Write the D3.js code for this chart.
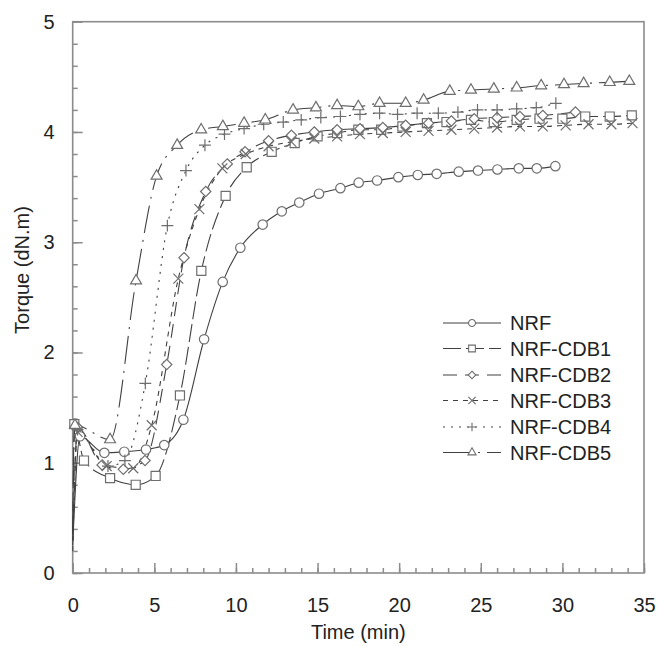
<!DOCTYPE html>
<html>
<head>
<meta charset="utf-8">
<script src="https://cdn.jsdelivr.net/npm/d3@7"></script>
<style>
  body { margin: 0; background: #fff; }
  text { font-family: "Liberation Sans", Arial, sans-serif; fill: #222; }
</style>
</head>
<body>
<script>
// series names (legend order)
var seriesNames = ["NRF", "NRF-CDB1", "NRF-CDB2", "NRF-CDB3", "NRF-CDB4", "NRF-CDB5"];

// time (min) / torque (dN.m)
var timeNRF   = [0, 0.45, 1.94, 3.16, 4.49, 5.61, 6.78, 8.05, 9.19, 10.27, 11.64, 12.81, 13.88, 15.09, 16.40, 17.52, 18.65, 19.95, 21.14, 22.30, 23.65, 24.83, 26.02, 27.33, 28.43, 29.57];
var torqueNRF = [0.25, 1.24, 1.09, 1.10, 1.12, 1.16, 1.39, 2.12, 2.64, 2.95, 3.16, 3.28, 3.36, 3.44, 3.49, 3.54, 3.56, 3.59, 3.61, 3.62, 3.64, 3.65, 3.66, 3.67, 3.67, 3.69];

var timeCDB1   = [0, 0.1, 0.69, 2.29, 3.86, 5.08, 6.57, 7.88, 9.37, 10.66, 12.19, 13.6, 15.0, 16.2, 17.5, 18.9, 20.2, 21.7, 22.9, 24.4, 25.8, 27.2, 28.6, 30.0, 31.4, 32.9, 34.25];
var torqueCDB1 = [0.35, 1.35, 1.02, 0.86, 0.80, 0.88, 1.61, 2.74, 3.42, 3.68, 3.82, 3.90, 3.96, 3.99, 4.02, 4.02, 4.05, 4.08, 4.09, 4.11, 4.09, 4.11, 4.12, 4.12, 4.14, 4.14, 4.15];

var timeCDB2   = [0, 0.3, 1.8, 3.1, 4.43, 5.76, 6.82, 8.15, 9.47, 10.56, 12.0, 13.4, 14.8, 16.2, 17.6, 19.0, 20.4, 21.8, 23.2, 24.6, 26.0, 27.4, 28.8, 30.8];
var torqueCDB2 = [0.3, 1.32, 0.98, 0.94, 1.02, 1.89, 2.86, 3.46, 3.71, 3.82, 3.92, 3.97, 4.00, 4.02, 4.03, 4.04, 4.06, 4.08, 4.10, 4.12, 4.13, 4.14, 4.15, 4.18];

var timeCDB3   = [0, 0.3, 2.08, 3.71, 4.84, 6.47, 7.76, 9.17, 10.6, 12.0, 13.4, 14.8, 16.2, 17.6, 19.0, 20.4, 21.8, 23.2, 24.6, 26.0, 27.4, 28.8, 30.2, 31.6, 33.0, 34.3];
var torqueCDB3 = [0.2, 1.28, 0.97, 0.95, 1.34, 2.67, 3.30, 3.67, 3.80, 3.87, 3.91, 3.94, 3.96, 3.98, 3.99, 4.00, 4.01, 4.02, 4.03, 4.04, 4.05, 4.05, 4.06, 4.07, 4.07, 4.08];

var timeCDB4   = [0, 0.3, 2.16, 3.2, 4.45, 5.8, 6.94, 8.1, 9.3, 10.5, 11.7, 12.9, 14.0, 15.2, 16.4, 17.6, 18.8, 19.9, 21.1, 22.4, 23.6, 24.8, 26.0, 27.2, 28.4, 29.6];
var torqueCDB4 = [0.3, 1.30, 0.97, 1.02, 1.72, 3.15, 3.65, 3.88, 3.98, 4.03, 4.07, 4.09, 4.11, 4.13, 4.14, 4.16, 4.17, 4.16, 4.17, 4.17, 4.18, 4.20, 4.20, 4.21, 4.22, 4.26];

var timeCDB5   = [0, 0.14, 2.29, 3.88, 5.14, 6.4, 7.87, 9.2, 10.5, 11.8, 13.5, 14.9, 16.2, 17.5, 18.8, 20.4, 21.5, 23.1, 24.4, 25.8, 27.2, 28.7, 30.1, 31.3, 32.9, 34.1];
var torqueCDB5 = [0.4, 1.34, 1.21, 2.65, 3.60, 3.88, 4.02, 4.05, 4.08, 4.11, 4.20, 4.22, 4.24, 4.23, 4.26, 4.26, 4.29, 4.37, 4.38, 4.39, 4.40, 4.42, 4.43, 4.44, 4.45, 4.46];

var xTicks = [0, 5, 10, 15, 20, 25, 30, 35];
var yTicks = [0, 1, 2, 3, 4, 5];

var times   = [timeNRF, timeCDB1, timeCDB2, timeCDB3, timeCDB4, timeCDB5];
var torques = [torqueNRF, torqueCDB1, torqueCDB2, torqueCDB3, torqueCDB4, torqueCDB5];

// per series look: dash pattern and symbol
var dashes  = [null, "18,5", "14,8", "5,5", "2,6", "28,7,2,7"];
var symbols = [d3.symbolCircle, d3.symbolSquare2, d3.symbolDiamond2, d3.symbolTimes, d3.symbolPlus, d3.symbolTriangle2];
var symSize = [70, 105, 68, 66, 48, 85];

var axisColor = "#8c8c8c",
    lineColor = "#404040",
    markColor = "#6e6e6e";

var width = 657, height = 646;
var plot = {left: 72.7, right: 644, top: 21.7, bottom: 573};

var xScale = d3.scaleLinear().domain([0, 35]).range([plot.left, plot.right]);
var yScale = d3.scaleLinear().domain([0, 5]).range([plot.bottom, plot.top]);

var svg = d3.select("body").append("svg")
    .attr("width", width)
    .attr("height", height);

// minor ticks
svg.append("g")
    .attr("transform", "translate(0," + plot.bottom + ")")
    .call(d3.axisBottom(xScale).tickValues(d3.range(0, 36, 1)).tickSize(-5).tickFormat(""))
    .call(function(g) { g.select(".domain").remove(); });
svg.append("g")
    .attr("transform", "translate(" + plot.left + ",0)")
    .call(d3.axisLeft(yScale).tickValues(d3.range(0, 5.01, 0.2)).tickSize(-5).tickFormat(""))
    .call(function(g) { g.select(".domain").remove(); });

// major ticks + labels
svg.append("g")
    .attr("transform", "translate(0," + plot.bottom + ")")
    .call(d3.axisBottom(xScale).tickValues(xTicks).tickSize(-10).tickPadding(25).tickFormat(d3.format("d")));
svg.append("g")
    .attr("transform", "translate(" + plot.left + ",0)")
    .call(d3.axisLeft(yScale).tickValues(yTicks).tickSize(-10).tickPadding(18).tickFormat(d3.format("d")));

svg.selectAll(".tick line").attr("stroke", axisColor).attr("stroke-width", 1.5);
svg.selectAll(".domain").remove();
svg.selectAll(".tick text")
    .attr("font-size", "20px")
    .attr("font-family", "Liberation Sans, Arial, sans-serif")
    .attr("fill", "#222");

// frame
svg.append("rect")
    .attr("x", plot.left)
    .attr("y", plot.top)
    .attr("width", plot.right - plot.left)
    .attr("height", plot.bottom - plot.top)
    .attr("fill", "none")
    .attr("stroke", axisColor)
    .attr("stroke-width", 1.6);

// axis titles
svg.append("text")
    .attr("x", (plot.left + plot.right) / 2)
    .attr("y", 639)
    .attr("text-anchor", "middle")
    .attr("font-size", "20px")
    .text("Time (min)");
svg.append("text")
    .attr("transform", "translate(29,270) rotate(-90)")
    .attr("text-anchor", "middle")
    .attr("font-size", "20px")
    .text("Torque (dN.m)");

var series = seriesNames.map(function(name, i) {
  return {
    name: name,
    points: times[i].map(function(t, j) { return [t, torques[i][j]]; }),
    dash: dashes[i],
    symbol: symbols[i],
    size: symSize[i]
  };
});

var line = d3.line()
    .x(function(d) { return xScale(d[0]); })
    .y(function(d) { return yScale(d[1]); })
    .curve(d3.curveMonotoneX);

// curves
svg.append("g").selectAll("path")
    .data(series)
    .enter().append("path")
    .attr("d", function(d) { return line(d.points); })
    .attr("fill", "none")
    .attr("stroke", lineColor)
    .attr("stroke-width", 1.1)
    .attr("stroke-dasharray", function(d) { return d.dash; });

// markers (first point at t=0 has none)
var markGroups = svg.append("g").selectAll("g")
    .data(series)
    .enter().append("g");

markGroups.selectAll("path")
    .data(function(d) { return d.points.slice(1).map(function(p) { return {p: p, s: d}; }); })
    .enter().append("path")
    .attr("transform", function(d) { return "translate(" + xScale(d.p[0]) + "," + yScale(d.p[1]) + ")"; })
    .attr("d", function(d) { return d3.symbol().type(d.s.symbol).size(d.s.size)(); })
    .attr("fill", function(d) { return (d.s.symbol === d3.symbolTimes || d.s.symbol === d3.symbolPlus) ? "none" : "#fff"; })
    .attr("stroke", markColor)
    .attr("stroke-width", 1.2);

// legend
var legendRowY = [323, 348.5, 375, 400.5, 427, 452.5];
var legend = svg.append("g").selectAll("g")
    .data(series)
    .enter().append("g")
    .attr("transform", function(d, i) { return "translate(0," + legendRowY[i] + ")"; });

legend.append("line")
    .attr("x1", 443).attr("x2", 501)
    .attr("stroke", lineColor)
    .attr("stroke-width", 1.2)
    .attr("stroke-dasharray", function(d) { return d.dash; });

legend.append("path")
    .attr("transform", "translate(472,0)")
    .attr("d", function(d) { return d3.symbol().type(d.symbol).size(d.size * 0.55)(); })
    .attr("fill", function(d) { return (d.symbol === d3.symbolTimes || d.symbol === d3.symbolPlus) ? "none" : "#fff"; })
    .attr("stroke", markColor)
    .attr("stroke-width", 1.1);

legend.append("text")
    .attr("x", 510)
    .attr("dy", "0.36em")
    .attr("font-size", "20px")
    .text(function(d) { return d.name; });
</script>
</body>
</html>
